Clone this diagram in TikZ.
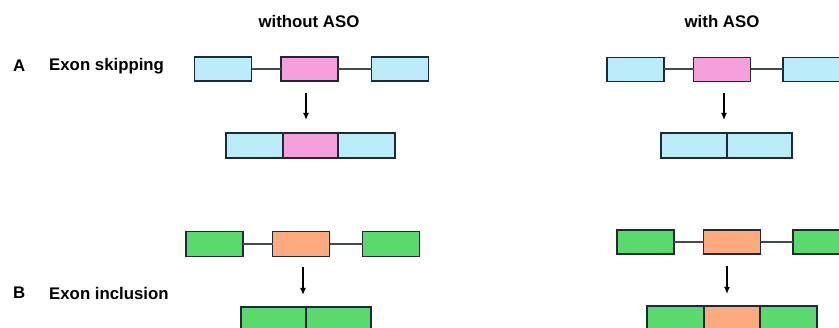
\documentclass[tikz,border=0pt]{standalone}
\usepackage{fontspec}
\setmainfont{Liberation Sans}
\usetikzlibrary{arrows.meta,positioning}
\definecolor{exblue}{HTML}{B9EBF8}
\definecolor{expink}{HTML}{F5A0DC}
\definecolor{exgreen}{HTML}{5AD96E}
\definecolor{exorange}{HTML}{FDAA7E}
\definecolor{exline}{HTML}{1E2A38}
\begin{document}
\begin{tikzpicture}[x=1pt,y=-1pt,
  exon/.style={draw=exline,line width=1.8pt,minimum height=24pt,inner sep=0pt,outer sep=0pt},
  bluex/.style={exon,fill=exblue,minimum width=57pt},
  pinkx/.style={exon,fill=expink,minimum width=57pt},
  greenx/.style={exon,fill=exgreen,minimum width=57pt},
  orangex/.style={exon,fill=exorange,minimum width=57pt},
  intron/.style={draw=exline!85!white,line width=2pt},
  splice/.style={draw=black,line width=1.3pt,-{Latex[length=7pt,width=6pt]}},
  head/.style={font=\fontsize{16.8}{19}\selectfont\bfseries},
  lab/.style={font=\fontsize{16.8}{19}\selectfont\bfseries,anchor=west,inner sep=0pt}]
\useasboundingbox (0,0) rectangle (839,328);
\clip (0,0) rectangle (839,328);

% headers
\node[head] (h1) at (309,22) {without ASO};
\node[head] (h2) at (722,22) {with ASO};
\node[lab] (la) at (13,66) {A};
\node[lab] (ta) at (49,66) {Exon skipping};
\node[lab] (lb) at (13,293) {B};
\node[lab] (tb) at (49,293) {Exon inclusion};

% A without ASO
\node[bluex] (a1) at (223,69) {};
\node[pinkx] (a2) at (309.5,69) {};
\node[bluex] (a3) at (400,69) {};
\draw[intron] (a1.east) -- (a2.west);
\draw[intron] (a2.east) -- (a3.west);
\coordinate (aas) at (306,93);
\coordinate (aae) at (306,120);
\draw[splice] (aas) -- (aae);
\node[bluex,anchor=west,minimum height=25pt] (ab1) at (226,145.5) {};
\node[pinkx,anchor=west,minimum height=25pt,minimum width=55pt] (ab2) at (ab1.east) {};
\node[bluex,anchor=west,minimum height=25pt] (ab3) at (ab2.east) {};

% A with ASO
\node[bluex] (c1) at (635.5,69.5) {};
\node[pinkx] (c2) at (722,69.5) {};
\node[bluex] (c3) at (811.5,69.5) {};
\draw[intron] (c1.east) -- (c2.west);
\draw[intron] (c2.east) -- (c3.west);
\coordinate (cas) at (724,93);
\coordinate (cae) at (724,120);
\draw[splice] (cas) -- (cae);
\node[bluex,anchor=west,minimum height=25pt,minimum width=66pt] (cb1) at (661,145.5) {};
\node[bluex,anchor=west,minimum height=25pt,minimum width=65pt] (cb2) at (cb1.east) {};

% B without ASO
\node[greenx,minimum height=25pt] (b1) at (214.5,244) {};
\node[orangex,minimum height=25pt] (b2) at (301,244) {};
\node[greenx,minimum height=25pt] (b3) at (391,244) {};
\draw[intron] (b1.east) -- (b2.west);
\draw[intron] (b2.east) -- (b3.west);
\coordinate (bas) at (303,267);
\coordinate (bae) at (303,295);
\draw[splice] (bas) -- (bae);
\node[greenx,anchor=north west,minimum height=26pt,minimum width=65pt] (bb1) at (241,307) {};
\node[greenx,anchor=north west,minimum height=26pt,minimum width=65pt] (bb2) at (bb1.north east) {};

% B with ASO
\node[greenx] (d1) at (645.5,242) {};
\node[orangex] (d2) at (732,242) {};
\node[greenx] (d3) at (821.5,242) {};
\draw[intron] (d1.east) -- (d2.west);
\draw[intron] (d2.east) -- (d3.west);
\coordinate (das) at (727,266);
\coordinate (dae) at (727,294);
\draw[splice] (das) -- (dae);
\node[greenx,anchor=north west,minimum height=26pt] (db1) at (647,306) {};
\node[orangex,anchor=north west,minimum height=26pt,minimum width=56pt] (db2) at (db1.north east) {};
\node[greenx,anchor=north west,minimum height=26pt] (db3) at (db2.north east) {};
\end{tikzpicture}
\end{document}
